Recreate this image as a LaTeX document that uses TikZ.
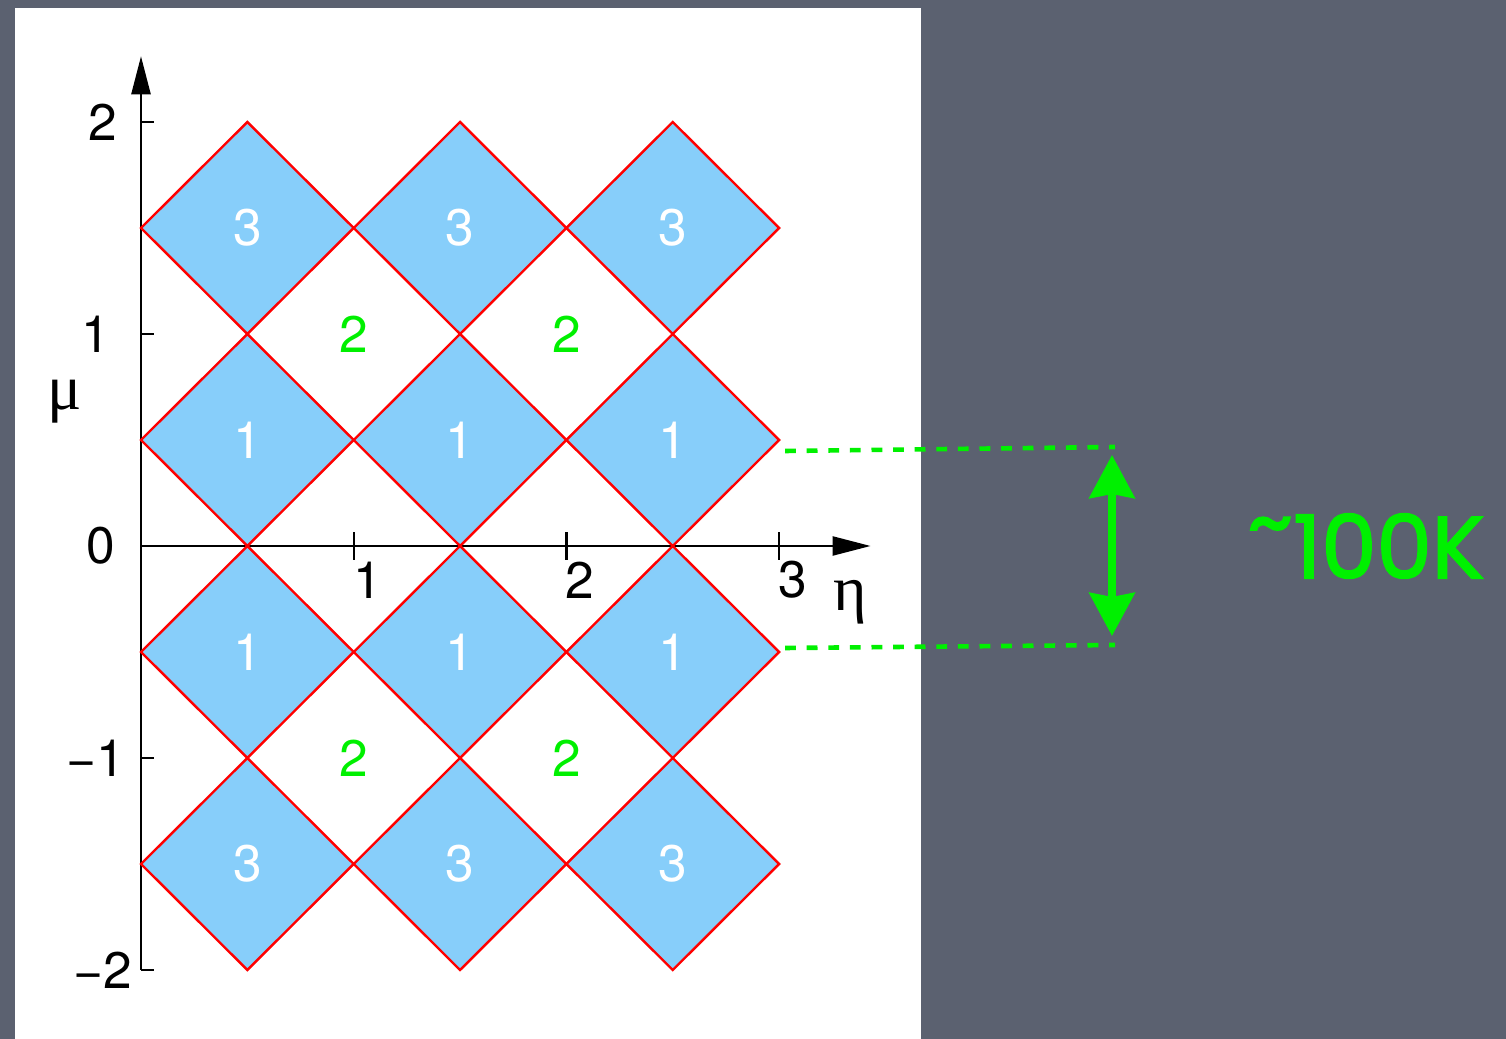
\documentclass[tikz,border=0pt]{standalone}
\usepackage{xcolor}
\usepackage{tikz}
\usepackage{fontspec}
\setmainfont{TeX Gyre Heros}
\newfontfamily\greekfont{Liberation Serif}
\newfontfamily\chalkfont[AutoFakeBold=2]{Poppins}
\usetikzlibrary{arrows.meta,calc}

\definecolor{board}{RGB}{91,97,112}
\definecolor{cellblue}{RGB}{135,206,250}
\definecolor{chalkgreen}{RGB}{0,240,0}

\begin{document}
\begin{tikzpicture}[x=0.5pt, y=0.5pt]
  \tikzset{
    cell/.style={fill=cellblue, draw=red, line width=1.2pt, line join=miter},
    axis/.style={line width=1.2pt, -{Triangle[length=19pt, width=9.5pt]}},
    tick/.style={line width=1.2pt},
    ticklabel/.style={font=\fontsize{25.7}{30}\selectfont, inner sep=0pt},
    celltext/.style={font=\fontsize{25.7}{30}\selectfont, text=white, inner sep=0pt},
    zonetext/.style={font=\fontsize{25.7}{30}\selectfont, text=chalkgreen, inner sep=0pt},
    varlabel/.style={font=\greekfont\fontsize{32}{36}\selectfont, inner sep=0pt, anchor=base},
    gapline/.style={chalkgreen, line width=2.3pt, dash pattern=on 5.4pt off 5.4pt},
    span/.style={chalkgreen, line width=4pt,
      {Stealth[length=21.5pt, width=22.5pt, inset=2pt]}-{Stealth[length=21.5pt, width=22.5pt, inset=2pt]}},
    bandtext/.style={font=\chalkfont\bfseries\fontsize{44}{50}\selectfont, text=chalkgreen, inner sep=0pt}
  }
  \useasboundingbox (0,0) rectangle (1506,1039);

  % board and sheet
  \fill[board] (0,0) rectangle (1506,1039);
  \fill[white] (15,0) rectangle (921,1031);

  \begin{scope}[shift={(70.5pt,246.5pt)}, x=106.35pt, y=106pt]
    % axes
    \draw[axis] (0,-2) -- (0,2.31);
    \draw[axis] (0,0) -- (3.43,0);
    \draw[tick] (0,-2) -- (0.06,-2);
    \foreach \v in {-1,1,2}
      \draw[tick] (0,\v) -- (0.06,\v);
    \foreach \v in {1,2,3}
      \draw[tick] (\v,-0.065) -- (\v,0.065);

    % tick labels
    \foreach \v/\lx [count=\i] in {2/-0.11, 1/-0.145, 0/-0.12, -1/-0.075, -2/-0.04}
      \node[ticklabel, anchor=east] (ylab\i) at (\lx,\v) {\ifnum\v<0 −\the\numexpr-\v\relax\else\v\fi};
    \foreach \v in {1,2,3}
      \node[ticklabel] (xlab\v) at (\v+0.065,-0.16) {\v};
    \node[varlabel] (eta) at (3.333,-0.302) {η};
    \node[varlabel] (mu) at (-0.357,0.642) {μ};

    % cells
    \foreach \cx [count=\i] in {0.5,1.5,2.5}
      \foreach \cy/\lab [count=\j] in {1.5/3, 0.5/1, -0.5/1, -1.5/3} {
        \filldraw[cell] (\cx-0.5,\cy) -- (\cx,\cy+0.5) -- (\cx+0.5,\cy) -- (\cx,\cy-0.5) -- cycle;
        \node[celltext] (cell\i\j) at (\cx,\cy) {\lab};
      }
    \foreach \cx [count=\i] in {1,2}
      \foreach \cy [count=\j] in {1,-1}
        \node[zonetext] (zone\i\j) at (\cx,\cy) {2};

    \coordinate (tipU) at (3,0.5);
    \coordinate (tipL) at (3,-0.5);
  \end{scope}

  % band width marker
  \coordinate (endU) at (1115,592);
  \coordinate (endL) at (1115,394);
  \coordinate (arrU) at (1112,584);
  \coordinate (arrL) at (1112,403);
  \draw[gapline] ([xshift=3pt, yshift=-5.5pt]tipU) -- (endU);
  \draw[gapline] ([xshift=3pt, yshift=2pt]tipL) -- (endL);
  \draw[span] (arrU) -- (arrL);
  \node[bandtext] (band) at (1366,493) {\raisebox{0.3em}{\string~}100K};
\end{tikzpicture}
\end{document}
